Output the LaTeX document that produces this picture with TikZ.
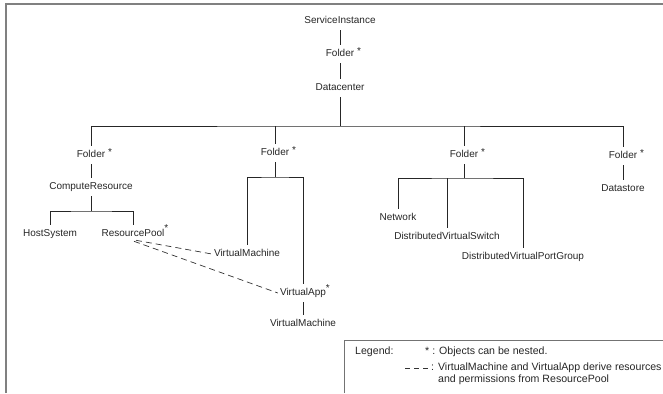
\documentclass[tikz,border=0pt]{standalone}
\usepackage{fontspec}
\setmainfont{Liberation Sans}
\newcommand\fst{\rlap{\hspace{3pt}\raisebox{2.5pt}{*}}}
\begin{document}
\begin{tikzpicture}[x=1pt,y=-1pt,
  lbl/.style={font=\fontsize{10}{12}\selectfont, text=black!85, inner xsep=2pt, inner ysep=4.5pt, text height=7.2pt, text depth=2pt},
  leg/.style={lbl, font=\fontsize{10.6}{12}\selectfont, anchor=west},
  tree/.style={draw=black!85, line width=0.8pt},
  dep/.style={draw=black!80, line width=0.7pt, dash pattern=on 6pt off 4pt},
  legdash/.style={draw=black!80, line width=0.8pt, dash pattern=on 5pt off 4pt},
  frame/.style={draw=black!50, line width=1.6pt},
  legbox/.style={draw=black!55, line width=1pt}]
\useasboundingbox (0,0) rectangle (663,393);
\draw[frame] (6,393) -- (6,4) -- (663,4);
% tree
\node[lbl] (si) at (340,21) {ServiceInstance};
\node[lbl] (f0) at (340,54) {Folder\fst};
\node[lbl] (dc) at (340,88) {Datacenter};
\coordinate (top) at (340,126);
\node[lbl] (f1) at (91,155) {Folder\fst};
\node[lbl] (f2) at (275,153) {Folder\fst};
\node[lbl] (f3) at (464,155) {Folder\fst};
\node[lbl] (f4) at (623,156) {Folder\fst};
\node[lbl] (cr) at (91,187) {ComputeResource};
\coordinate (j1) at (91,211);
\node[lbl] (hs) at (50,234) {HostSystem};
\node[lbl] (rp) at (133,234) {ResourcePool\rlap{\raisebox{5.5pt}{*}}};
\coordinate (j2) at (275,177);
\node[lbl] (vm1) at (247,254) {VirtualMachine};
\node[lbl] (va) at (303,293) {VirtualApp\rlap{\raisebox{4pt}{*}}};
\node[lbl] (vm2) at (303,324) {VirtualMachine};
\coordinate (j3) at (464,178);
\node[lbl] (nw) at (398,218) {Network};
\node[lbl] (dvs) at (447,237) {DistributedVirtualSwitch};
\node[lbl] (dvpg) at (523,257) {DistributedVirtualPortGroup};
\node[lbl] (ds) at (623,189) {Datastore};
\draw[tree] (si) -- (f0);
\draw[tree] (f0) -- (dc);
\draw[tree] (dc) -- (top);
\draw[tree] (f1.north) |- (top) -| (f4.north);
\draw[tree] (f2) -- (f2 |- top);
\draw[tree] (f3) -- (f3 |- top);
\draw[tree] (f1) -- (cr);
\draw[tree] (cr) -- (j1);
\draw[tree] (hs.north) |- (j1) -| (rp.north);
\draw[tree] (f2) -- (j2);
\draw[tree] (vm1.north) |- (j2) -| (va.north);
\draw[tree] (va) -- (vm2);
\draw[tree] (f3) -- (j3);
\draw[tree] (nw.north) |- (j3) -| (dvpg.north);
\draw[tree] (dvs) -- (dvs |- j3);
\draw[tree] (f4) -- (ds);
\draw[dep] ([xshift=3pt,yshift=3pt]rp.south) -- (vm1.west);
\draw[dep] ([xshift=1pt,yshift=2pt]rp.south) -- (va.west);
% legend
\draw[legbox] (344,393) -- (344,340) -- (663,340);
\node[leg] (lg) at (353,352) {Legend:};
\node[leg] (l1) at (423,352) {*\ : Objects can be nested.};
\coordinate (d1) at (405,368);
\coordinate (d2) at (428,368);
\draw[legdash] (d1) -- (d2);
\node[leg] (l2) at (429,368) {: VirtualMachine and VirtualApp derive resources};
\node[leg] (l3) at (436,380) {and permissions from ResourcePool};
\end{tikzpicture}
\end{document}
